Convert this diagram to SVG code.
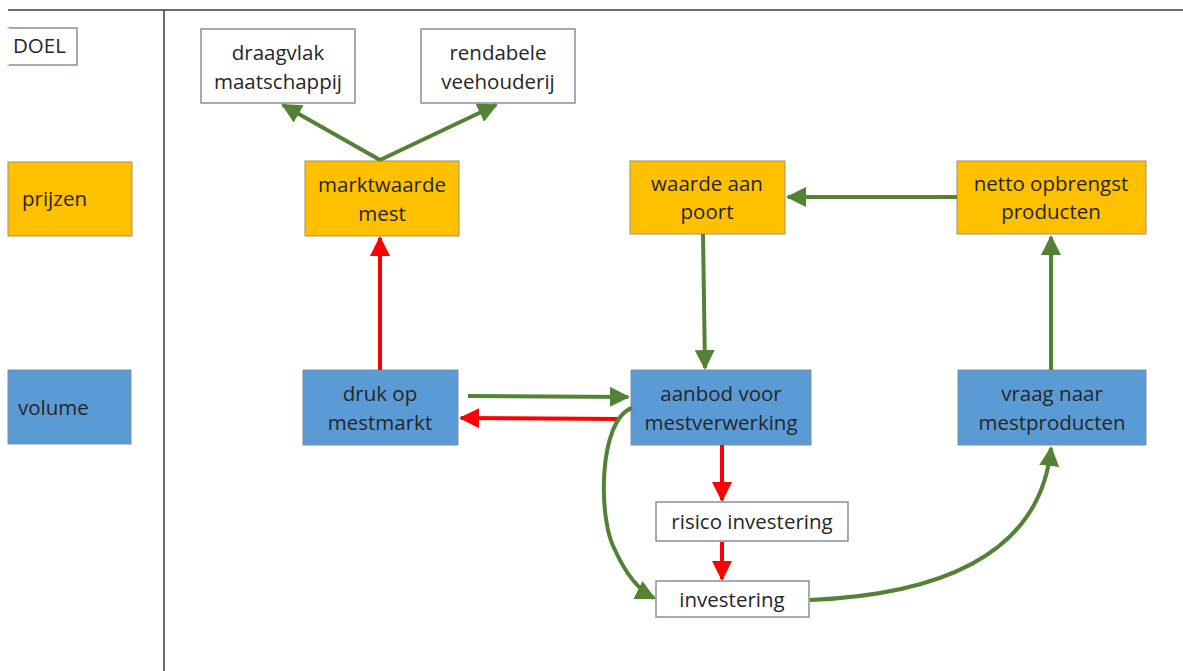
<svg xmlns="http://www.w3.org/2000/svg" width="1183" height="671" viewBox="0 0 1183 671">
<defs>
<style>
.t{font-family:"Open Sans","Noto Sans",sans-serif;font-size:20.5px;fill:#262626;text-anchor:middle}
.w{fill:#fff;stroke:#8a8f99;stroke-width:1.5}
.o{fill:#FFC000;stroke:#a09070;stroke-width:1}
.b{fill:#5B9BD5;stroke:#7f8fa0;stroke-width:1}
.g{stroke:#548235;stroke-width:4;fill:none;marker-end:url(#ag)}
.r{stroke:#FF0000;stroke-width:4;fill:none;marker-end:url(#ar)}
</style>
<marker id="ag" viewBox="0 0 10 10" refX="9" refY="5" markerWidth="5" markerHeight="5" orient="auto" markerUnits="strokeWidth"><path d="M0,0 L10,5 L0,10 z" fill="#548235"/></marker>
<marker id="ar" viewBox="0 0 10 10" refX="9" refY="5" markerWidth="5" markerHeight="5" orient="auto" markerUnits="strokeWidth"><path d="M0,0 L10,5 L0,10 z" fill="#FF0000"/></marker>
</defs>
<rect width="1183" height="671" fill="#fff"/>
<g id="frame" stroke="#3a3a3a" stroke-width="1.5">
<line x1="8" y1="10" x2="1183" y2="10"/>
<line x1="164" y1="10" x2="164" y2="671"/>
</g>
<g id="doel"><rect class="w" x="8" y="28" width="69" height="37"/><line x1="8" y1="28" x2="8" y2="65" stroke="#fff" stroke-width="2"/><text class="t" x="13" y="53" style="text-anchor:start">DOEL</text></g>
<g id="prijzen"><rect class="o" x="8" y="162" width="124" height="74"/><text class="t" x="22" y="206" style="text-anchor:start">prijzen</text></g>
<g id="volume"><rect class="b" x="8" y="370" width="123" height="74"/><text class="t" x="18" y="415" style="text-anchor:start">volume</text></g>
<g id="draagvlak"><rect class="w" x="201" y="29" width="154" height="74"/><text class="t" x="278" y="60">draagvlak</text><text class="t" x="278" y="89">maatschappij</text></g>
<g id="rendabele"><rect class="w" x="421" y="29" width="154" height="74"/><text class="t" x="498" y="60">rendabele</text><text class="t" x="498" y="89">veehouderij</text></g>
<g id="marktwaarde"><rect class="o" x="305" y="161" width="154" height="75"/><text class="t" x="382" y="192">marktwaarde</text><text class="t" x="382" y="221">mest</text></g>
<g id="waarde"><rect class="o" x="630" y="161" width="155" height="73"/><text class="t" x="707" y="191">waarde aan</text><text class="t" x="707" y="219">poort</text></g>
<g id="netto"><rect class="o" x="957" y="161" width="189" height="73"/><text class="t" x="1051" y="191">netto opbrengst</text><text class="t" x="1051" y="219">producten</text></g>
<g id="druk"><rect class="b" x="303" y="370" width="155" height="75"/><text class="t" x="380" y="401">druk op</text><text class="t" x="380" y="430">mestmarkt</text></g>
<g id="aanbod"><rect class="b" x="631" y="370" width="180" height="75"/><text class="t" x="721" y="401">aanbod voor</text><text class="t" x="721" y="430">mestverwerking</text></g>
<g id="vraag"><rect class="b" x="958" y="370" width="188" height="75"/><text class="t" x="1052" y="401">vraag naar</text><text class="t" x="1052" y="430">mestproducten</text></g>
<g id="risico"><rect class="w" x="656" y="502" width="192" height="39"/><text class="t" x="752" y="529">risico investering</text></g>
<g id="investering"><rect class="w" x="656" y="581" width="153" height="36"/><text class="t" x="732" y="607">investering</text></g>
<g id="connectors">
<path class="g" d="M380,160 L283,105"/>
<path class="g" d="M380,160 L496,105"/>
<path class="r" d="M380,370 L380,238"/>
<path class="g" d="M468,396 L628,397"/>
<path class="r" d="M620,419 L461,418"/>
<path class="g" d="M703,234 L705,368"/>
<path class="g" d="M957,197 L788,197"/>
<path class="g" d="M1051,370 L1051,237"/>
<path class="r" d="M722,445 L722,500"/>
<path class="r" d="M722,542 L722,579"/>
<path class="g" d="M632,408 C598,420 598,520 615,550 C625,572 638,590 654,598"/>
<path class="g" d="M810,600 C930,595 1040,560 1051,448"/>
</g>
</svg>
